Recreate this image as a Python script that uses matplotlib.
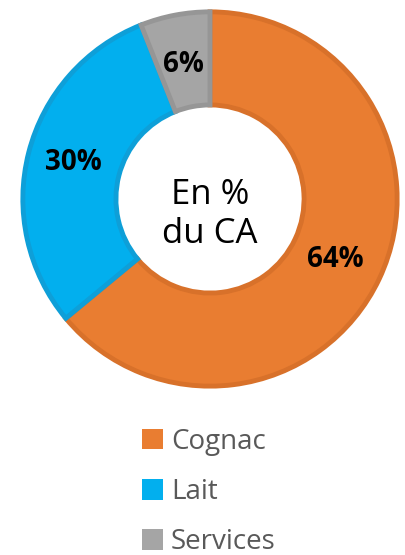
import matplotlib

matplotlib.use("Agg")
import matplotlib.pyplot as plt
from matplotlib.patches import Patch

labels = ["Cognac", "Lait", "Services"]
shares = [64, 30, 6]
fill_colors = ["#E97D31", "#02AFEE", "#A5A5A5"]
edge_colors = ["#D8712A", "#0E9FD8", "#969696"]

plt.rcParams["font.family"] = ["Open Sans", "DejaVu Sans"]

W, H = 406, 555
fig = plt.figure(figsize=(W / 100, H / 100), dpi=100)
ax = fig.add_axes([20 / W, 166 / H, 380 / W, 380 / H])

wedges, _ = ax.pie(shares, colors=fill_colors, startangle=90, counterclock=False,
                   radius=0.985,
                   wedgeprops=dict(width=0.49, linewidth=3.5))
for w, ec in zip(wedges, edge_colors):
    w.set_edgecolor(ec)
ax.set_xlim(-1, 1)
ax.set_ylim(-1, 1)
ax.set_aspect("equal")
ax.axis("off")

# percentage labels
label_pos = [(0.66, -0.32), (-0.72, 0.19), (-0.14, 0.71)]
for s, (x, y) in zip(shares, label_pos):
    ax.text(x, y, f"{s}%", ha="center", va="center", fontsize=20,
            fontweight="bold", color="black")

ax.text(0, -0.08, "En %\ndu CA", ha="center", va="center", fontsize=25,
        linespacing=1.2, color="black")

handles = [Patch(facecolor=c, edgecolor="none") for c in fill_colors]
leg = fig.legend(handles, labels, loc="upper left",
                 bbox_to_anchor=(128 / W, 1 - 414 / H),
                 frameon=False, fontsize=20, labelcolor="#595959",
                 handlelength=0.75, handleheight=0.75, handletextpad=0.3,
                 labelspacing=0.8, borderpad=0)

fig.savefig("out.png", dpi=100)
